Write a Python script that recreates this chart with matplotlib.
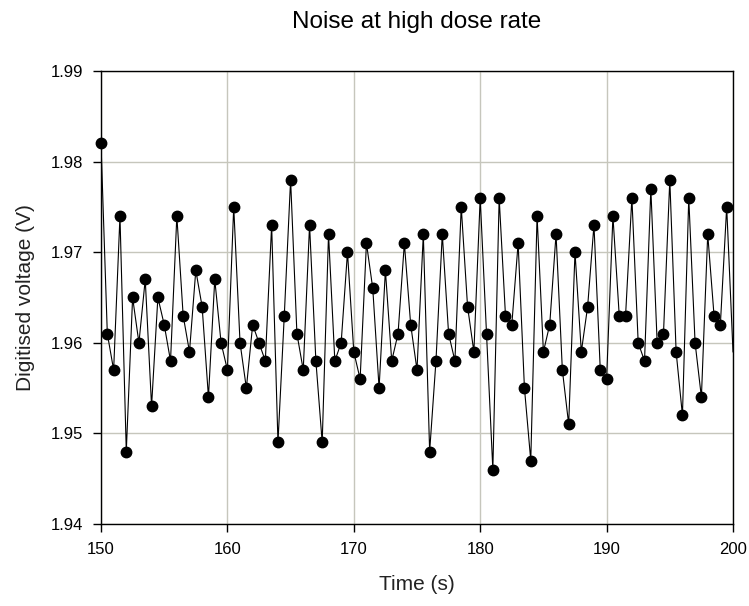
import matplotlib
matplotlib.use('Agg')
import matplotlib.pyplot as plt

# sample times (s) and digitised voltage (V)
time_s = [150.0, 150.5, 151.0, 151.5, 152.0, 152.5, 153.0, 153.5, 154.0, 154.5,
          155.0, 155.5, 156.0, 156.5, 157.0, 157.5, 158.0, 158.5, 159.0, 159.5,
          160.0, 160.5, 161.0, 161.5, 162.0, 162.5, 163.0, 163.5, 164.0, 164.5,
          165.0, 165.5, 166.0, 166.5, 167.0, 167.5, 168.0, 168.5, 169.0, 169.5,
          170.0, 170.5, 171.0, 171.5, 172.0, 172.5, 173.0, 173.5, 174.0, 174.5,
          175.0, 175.5, 176.0, 176.5, 177.0, 177.5, 178.0, 178.5, 179.0, 179.5,
          180.0, 180.5, 181.0, 181.5, 182.0, 182.5, 183.0, 183.5, 184.0, 184.5,
          185.0, 185.5, 186.0, 186.5, 187.0, 187.5, 188.0, 188.5, 189.0, 189.5,
          190.0, 190.5, 191.0, 191.5, 192.0, 192.5, 193.0, 193.5, 194.0, 194.5,
          195.0, 195.5, 196.0, 196.5, 197.0, 197.5, 198.0, 198.5, 199.0, 199.5,
          200.0]

voltage = [1.982, 1.961, 1.957, 1.974, 1.948, 1.965, 1.960, 1.967, 1.953, 1.965,
           1.962, 1.958, 1.974, 1.963, 1.959, 1.968, 1.964, 1.954, 1.967, 1.960,
           1.957, 1.975, 1.960, 1.955, 1.962, 1.960, 1.958, 1.973, 1.949, 1.963,
           1.978, 1.961, 1.957, 1.973, 1.958, 1.949, 1.972, 1.958, 1.960, 1.970,
           1.959, 1.956, 1.971, 1.966, 1.955, 1.968, 1.958, 1.961, 1.971, 1.962,
           1.957, 1.972, 1.948, 1.958, 1.972, 1.961, 1.958, 1.975, 1.964, 1.959,
           1.976, 1.961, 1.946, 1.976, 1.963, 1.962, 1.971, 1.955, 1.947, 1.974,
           1.959, 1.962, 1.972, 1.957, 1.951, 1.970, 1.959, 1.964, 1.973, 1.957,
           1.956, 1.974, 1.963, 1.963, 1.976, 1.960, 1.958, 1.977, 1.960, 1.961,
           1.978, 1.959, 1.952, 1.976, 1.960, 1.954, 1.972, 1.963, 1.962, 1.975,
           1.959]

x_ticks = [150, 160, 170, 180, 190, 200]
y_ticks = [1.94, 1.95, 1.96, 1.97, 1.98, 1.99]

plt.rcParams['font.family'] = ['Liberation Sans', 'DejaVu Sans']

fig = plt.figure(figsize=(7.49, 6.06), dpi=100)
ax = fig.add_axes([101 / 749, 82 / 606, 632 / 749, 453 / 606])

ax.plot(time_s, voltage, color='black', linewidth=0.8, zorder=3)
# last sample sits on the right edge and shows no marker in the original
ax.plot(time_s[:-1], voltage[:-1], linestyle='none', marker='o', markersize=7.5,
        color='black', clip_on=False, zorder=4)

ax.set_xlim(150, 200)
ax.set_ylim(1.94, 1.99)
ax.set_xticks(x_ticks)
ax.set_yticks(y_ticks)
ax.set_xticklabels([str(t) for t in x_ticks])
ax.set_yticklabels([f'{v:.2f}' for v in y_ticks])
ax.tick_params(labelsize=12, length=6, width=1, direction='out', pad=7, colors='black')

ax.grid(True, color='#c6c6bc', linewidth=1)
ax.set_axisbelow(True)
for side in ['left', 'bottom', 'top', 'right']:
    ax.spines[side].set_linewidth(1)
    ax.spines[side].set_color('black')

ax.set_title('Noise at high dose rate', fontsize=17.5, pad=31)
ax.set_xlabel('Time (s)', fontsize=15, labelpad=13, color='#222222')
ax.set_ylabel('Digitised voltage (V)', fontsize=15, labelpad=11, color='#222222')

fig.savefig('out.png', dpi=100)
